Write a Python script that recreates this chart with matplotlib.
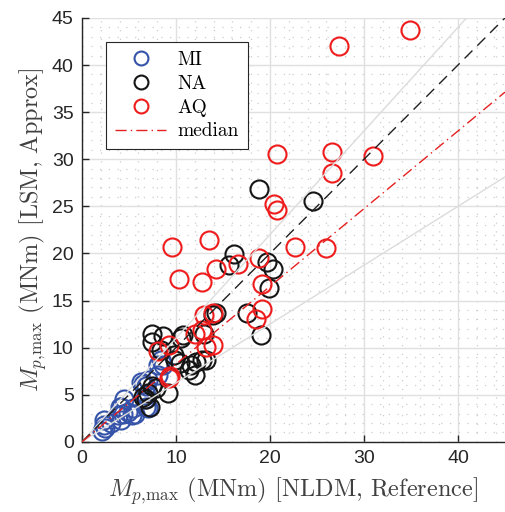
import numpy as np
import matplotlib.pyplot as plt
from matplotlib.ticker import MultipleLocator

plt.rcParams['mathtext.fontset'] = 'cm'
plt.rcParams['axes.unicode_minus'] = False

# MI points (NLDM reference, LSM approx)
mi_x = [2.1, 2.3, 2.4, 3.1, 2.3, 3.8, 4.2, 4.0, 4.4, 4.5, 4.9, 5.3, 5.6, 4.2, 5.4,
        6.5, 6.8, 6.8, 6.7, 7.0, 6.8, 6.3, 7.0, 8.1, 8.4, 8.6, 8.1]
mi_y = [1.1, 1.8, 1.5, 2.0, 2.3, 2.9, 3.7, 3.7, 3.0, 4.6, 3.2, 2.9, 3.0, 2.3, 3.6,
        6.1, 5.9, 5.0, 4.5, 3.6, 3.7, 6.4, 6.6, 7.1, 8.7, 8.2, 8.2]

# NA points
na_x = [18.8, 24.6, 16.2, 15.6, 19.7, 20.3, 19.9, 17.6, 14.3, 13.9, 19.0, 10.7,
        7.4, 8.6, 7.5, 10.5, 9.9, 11.6, 12.1, 12.8, 11.4, 12.0, 13.2, 8.4, 9.8,
        10.4, 7.0, 6.8, 7.9, 9.2, 7.2, 7.4, 6.5, 13.0]
na_y = [26.8, 25.6, 19.9, 18.8, 19.1, 18.4, 16.3, 13.7, 13.7, 13.5, 11.3, 11.3,
        11.5, 11.2, 10.6, 11.0, 8.7, 8.2, 8.5, 8.7, 7.6, 7.1, 8.7, 9.8, 9.2,
        8.4, 5.2, 4.6, 5.7, 5.2, 3.7, 5.9, 4.8, 11.5]

# AQ points
aq_x = [34.9, 27.3, 26.6, 31.0, 20.7, 26.6, 20.4, 20.8, 22.7, 26.0, 13.5, 9.6,
        18.8, 16.6, 14.3, 10.3, 12.8, 19.1, 19.2, 18.5, 13.0, 13.9, 12.8, 12.0,
        13.2, 13.9, 9.3, 8.1, 9.3, 9.4]
aq_y = [43.7, 42.0, 30.8, 30.3, 30.6, 28.5, 25.3, 24.6, 20.7, 20.6, 21.4, 20.7,
        19.5, 18.9, 18.4, 17.3, 17.0, 16.8, 14.1, 13.0, 13.5, 13.7, 11.9, 11.4,
        10.1, 10.3, 10.3, 9.6, 6.8, 7.0]

median_slope = 0.825
band_slopes = [1.1, 0.625]

fig = plt.figure(figsize=(5.06, 5.12), dpi=100)
ax = fig.add_axes([0.162, 0.137, 0.836, 0.828])

ax.set_xlim(0, 45)
ax.set_ylim(0, 45)
ax.xaxis.set_major_locator(MultipleLocator(10))
ax.xaxis.set_minor_locator(MultipleLocator(2))
ax.yaxis.set_major_locator(MultipleLocator(5))
ax.yaxis.set_minor_locator(MultipleLocator(1))
ax.grid(which='major', color='#e0e0e0', lw=1.0)
ax.grid(which='minor', color='#cdcdcd', lw=0.9, ls=(0, (1, 6)))
ax.set_axisbelow(True)

ms = 13
mew = 1.5
ax.plot(mi_x, mi_y, 'o', mfc='none', mec='#3553a8', ms=ms, mew=mew, label='MI', zorder=3)
ax.plot(na_x, na_y, 'o', mfc='none', mec='#151515', ms=ms, mew=mew, label='NA', zorder=3)
ax.plot(aq_x, aq_y, 'o', mfc='none', mec='#ee1c1c', ms=ms, mew=mew, label='AQ', zorder=3)

xx = np.array([0, 45])
for s in band_slopes:
    ax.plot(xx, s * xx, color='#dcdcdc', lw=1.0, zorder=4)
ax.plot(xx, xx, color='#202020', lw=1.0, ls=(0, (8, 5)), zorder=4)
ax.plot(xx, median_slope * xx, color='#e52020', lw=1.0, ls=(0, (8, 3, 1, 3)),
        label='median', zorder=4)

for sp in ['top', 'right']:
    ax.spines[sp].set_visible(False)
for sp in ['left', 'bottom']:
    ax.spines[sp].set_color('#262626')
    ax.spines[sp].set_linewidth(1.0)
ax.tick_params(which='major', direction='in', length=5, width=1, colors='#262626',
               labelsize=14, pad=6)
ax.tick_params(which='minor', length=0)
for lab in ax.get_xticklabels() + ax.get_yticklabels():
    lab.set_fontfamily('Liberation Sans')

ax.set_xlabel(r'$M_{p,\!\max}$ (MNm) [NLDM, Reference]', family='cmr10',
              fontsize=17.5, color='#404040', labelpad=6)
ax.set_ylabel(r'$M_{p,\!\max}$ (MNm) [LSM, Approx]', family='cmr10',
              fontsize=17.5, color='#404040', labelpad=2)

leg = ax.legend(loc='upper left', bbox_to_anchor=(0.035, 0.965), fancybox=False,
                framealpha=1, edgecolor='#262626', prop={'family': 'cmr10', 'size': 14},
                handlelength=2.6, borderpad=0.45, labelspacing=0.3, handletextpad=0.6)
leg.get_frame().set_linewidth(0.8)
for h in leg.legend_handles[:3]:
    h.set_markersize(10)

fig.savefig('out.png', dpi=100)
